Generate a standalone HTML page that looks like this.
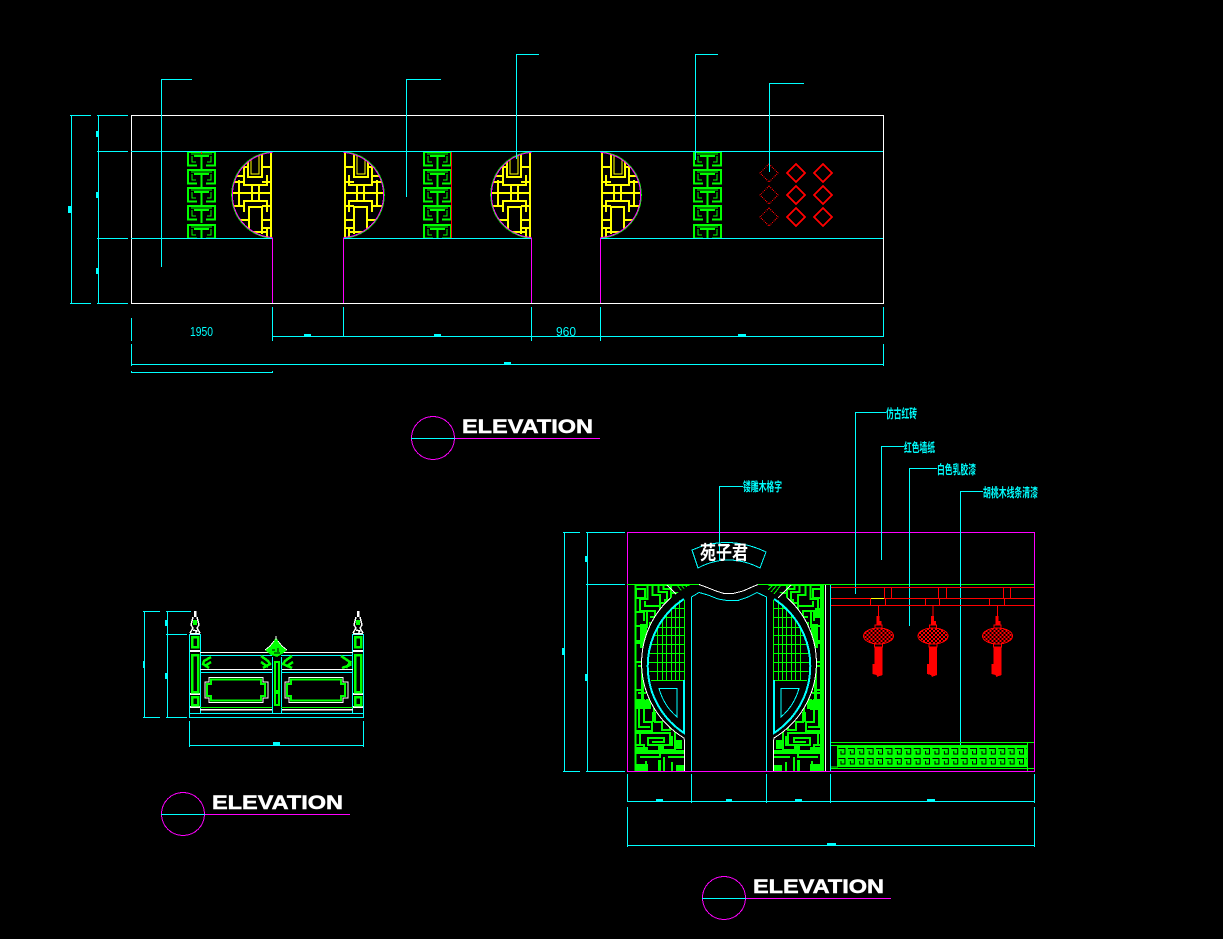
<!DOCTYPE html>
<html><head><meta charset="utf-8"><title>Elevation</title>
<style>
html,body{margin:0;padding:0;background:#000;width:1223px;height:939px;overflow:hidden}
svg{display:block}
text{font-family:"Liberation Sans","Noto Sans CJK SC",sans-serif}
.c{stroke:#0ff;fill:none}
.w{stroke:#fff;fill:none}
.m{stroke:#f0f;fill:none}
.g{stroke:#0f0;fill:none}
.r{stroke:#f00;fill:none}
.y{stroke:#ff0;fill:none;stroke-width:2}
.f{fill:#0ff;stroke:none}
.el{fill:#fff;font-weight:bold;font-size:19.5px;stroke:#fff;stroke-width:.5px}
.cn{fill:#0ff;font-size:12.5px;font-weight:bold}
.dim{fill:#0ff;font-size:12.5px}
</style></head><body>
<svg xmlns="http://www.w3.org/2000/svg" width="1223" height="939" viewBox="0 0 1223 939" shape-rendering="crispEdges">
<defs>
<clipPath id="cc"><circle cx="275" cy="195" r="43"/></clipPath>
<clipPath id="hc"><rect x="225" y="150" width="47.5" height="89"/></clipPath>
<clipPath id="kc"><rect x="0" y="152" width="1223" height="86"/></clipPath>
<g id="lat"><g clip-path="url(#hc)">
<g clip-path="url(#cc)" class="y">
<path d="M271 152V238M248 152V177H262V152M244 165V176M244 176V185H267V175M232 193H271M262 167H271M262 220H271M235 176H244M240 167H248M252 185V201M259 185V201M239 180V206M232 206H244M244 212V201H267V212M249 234V207H262V234M240 220H249M232 182H244M262 182H271M262 206H271M267 228V238M249 232H267M262 228H271"/>
<path d="M251 152V174H259V152" stroke-width="1"/>
</g>
<circle cx="275" cy="195" r="43.3" class="g"/>
<circle cx="275" cy="195" r="42.6" class="m"/>
</g></g>
<g id="ku" class="g">
<path d="M10 14.500H1V1H28V14.500H19" stroke-width="2"/>
<path d="M14.500 5V18" stroke-width="2"/>
<path d="M7 5H22" stroke-width="2"/>
<path d="M5 5V11H9M24 5V11H20M4 3H25" stroke-width="1"/>
</g>
<g id="col" clip-path="url(#kc)">
<use href="#ku" y="151"/><use href="#ku" y="169"/><use href="#ku" y="187"/><use href="#ku" y="205"/><use href="#ku" y="224"/>
</g>
<pattern id="chk" patternUnits="userSpaceOnUse" width="4" height="4"><rect width="4" height="4" fill="#f00"/><rect width="2" height="2" fill="#000"/><rect x="2" y="2" width="2" height="2" fill="#000"/></pattern>
<g id="lan">
<path class="r" d="M0 -31V-16"/>
<path d="M-2 -20H1V-15H3V-11H-2Z" fill="#f00"/>
<path class="r" d="M-3.500 -11H3.500V-7H-3.500Z"/>
<ellipse rx="15" ry="8" fill="url(#chk)" stroke="#f00"/>
<path class="r" d="M-4 8H4V11H-4Z"/>
<path d="M-4 11H4V39L1 40L-1 41L-2 39L-6 38V28H-4Z" fill="#f00"/>
</g>
<pattern id="key" patternUnits="userSpaceOnUse" x="838" y="746" width="9.400" height="10">
<path d="M0.500 2.500H7V8H3V5" fill="none" stroke="#000" stroke-width="1"/>
</pattern>
<g id="maze" class="g" stroke-width="1">
<path d="M635.500 585V771M635 585H692" stroke-width="2"/>
<path stroke-width="1.600" d="M636 589H645V598H636ZM647.500 585V599H640V611H655V619M652.500 585V595H660V606H645V601M658.500 585V592H667V603H660V617H650M663.500 585V589H671V600H665V612M671 585V593H680M636 612H644V621M636 626H641V647H648M644 650V662H636M638 666H642V690H636M638 693H646M647 612V628M650 622V636H644"/>
<path stroke-width="1.600" d="M636 700H644V722H652V731H636M639 706V727H650M642 690V700M646 700H654V716M654 722H662V730H670V725"/>
<path stroke-width="1.600" d="M636 733H670V745H648V738H664V742H652M636 745H644V750M675 732V750H664M636 753H685M646 761V771M640 757H660V752M668 757H684M664 757V771M672 762V771M640 733V745"/>
</g>
<g id="mazeb" fill="#0f0">
<rect x="640" y="624" width="7" height="22"/><rect x="636" y="640" width="5" height="4"/>
<rect x="641" y="676" width="3" height="24"/><rect x="636" y="700" width="15" height="9"/>
<rect x="652" y="712" width="4" height="10"/>
<rect x="670" y="736" width="3" height="10"/><rect x="674" y="740" width="8" height="9"/>
<rect x="636" y="747" width="12" height="6"/><rect x="636" y="750" width="49" height="3"/>
<rect x="658" y="745" width="6" height="8"/>
<rect x="636" y="764" width="12" height="7"/><rect x="658" y="760" width="3" height="11"/><rect x="676" y="765" width="8" height="6"/>
</g>
<clipPath id="gc"><circle cx="729" cy="663" r="80"/></clipPath>
<g id="back">
<use href="#maze"/><use href="#mazeb"/>
<rect x="688" y="590" width="10" height="182" fill="#000"/>
<circle cx="729" cy="663" r="87" fill="#000"/>
<rect x="685.500" y="600" width="60" height="172" fill="#000"/>
<path class="g" d="M677 585L684 594M681 585L687 592M685 585L690 590"/>
<path class="w" d="M667 585L680 598"/>
</g>
<g id="front">
<g clip-path="url(#gc)" class="g">
<path d="M657.500 605V680M662.500 605V680M666.500 600V680M671.500 600V680M675.500 600V680M679.500 600V680M684.500 600V680M645 608.500H685M645 617.500H685M645 627.500H685M645 635.500H685M645 644.500H685M645 653.500H685M645 662.500H685M645 671.500H685M645 680.500H685"/>
</g>
<path class="w" d="M670.500 598A87.500 87.500 0 0 0 684 738L684.500 741V771"/>
<path class="c" stroke-width="2" d="M684 599A80 80 0 0 0 684 733V680"/>
<path class="c" d="M659 688.500H677V717Q664 706 659 688.500Z"/>
</g>
</defs>
<rect width="1223" height="939" fill="#000"/>

<!-- top elevation -->
<use href="#col" x="187"/><use href="#col" x="423"/><use href="#col" x="693"/>
<use href="#lat"/>
<use href="#lat" transform="matrix(-1 0 0 1 616 0)"/>
<use href="#lat" transform="translate(259 0)"/>
<use href="#lat" transform="matrix(-1 0 0 1 873 0)"/>
<path class="r" d="M451.500 152V238M201.500 152V154"/>
<path fill="none" stroke="#f00" stroke-width="1.300" stroke-dasharray="1 1" d="M769 164l9 9l-9 9l-9 -9ZM769 186l9 9l-9 9l-9 -9ZM769 208l9 9l-9 9l-9 -9Z"/>
<path class="r" stroke-width="1.600" d="M796 164l9 9l-9 9l-9 -9ZM823 164l9 9l-9 9l-9 -9ZM796 186l9 9l-9 9l-9 -9ZM823 186l9 9l-9 9l-9 -9ZM796 208l9 9l-9 9l-9 -9ZM823 208l9 9l-9 9l-9 -9Z"/>
<path class="w" d="M131.500 115.500H883.500V303.500H131.500Z"/>
<path class="c" d="M97 151.500H128M131 151.500H883M97 238.500H128M131 238.500H272M344 238.500H531M600 238.500H883"/>
<path class="m" d="M272.500 238V303M343.500 238V303M531.500 238V303M600.500 238V303"/>
<path class="c" d="M161.500 267V79.500H192M406.500 197V79.500H441M516.500 159V54.500H539M695.500 160V54.500H718M769.500 172V83.500H804"/>
<path class="c" d="M71.500 115.500V303.500M70 115.500H91M70 303.500H91M98.500 115.500V303.500M97 115.500H128M97 303.500H128"/>
<path class="c" d="M131.500 318V341M272.500 307V341M343.500 307V337M531.500 307V341M600.500 307V341M883.500 307V337M272 336.500H883M131.500 344V366M883.500 344V366M131 364.500H883M131 372.500H273M131.500 371V373M272.500 371V373"/>
<g class="f"><rect x="304" y="334" width="7" height="2"/><rect x="434" y="334" width="7" height="2"/><rect x="738" y="334" width="8" height="2"/><rect x="504" y="362" width="7" height="2"/><rect x="96" y="131" width="3" height="6"/><rect x="96" y="192" width="3" height="6"/><rect x="96" y="268" width="3" height="6"/><rect x="68" y="206" width="3" height="7"/></g>
<text class="dim" x="190" y="336" textLength="23" lengthAdjust="spacingAndGlyphs">1950</text>
<text class="dim" x="556" y="336" textLength="20" lengthAdjust="spacingAndGlyphs">960</text>

<circle cx="433" cy="438" r="21.500" class="m"/><path class="c" d="M411 438.500H455"/><path class="m" d="M455 438.500H600"/>
<text class="el" x="462" y="433" textLength="131" lengthAdjust="spacingAndGlyphs">ELEVATION</text>
<circle cx="183" cy="814" r="21.500" class="m"/><path class="c" d="M161 814.500H205"/><path class="m" d="M205 814.500H350"/>
<text class="el" x="212" y="809" textLength="131" lengthAdjust="spacingAndGlyphs">ELEVATION</text>
<circle cx="724" cy="898" r="21.500" class="m"/><path class="c" d="M702 898.500H746"/><path class="m" d="M746 898.500H891"/>
<text class="el" x="753" y="893" textLength="131" lengthAdjust="spacingAndGlyphs">ELEVATION</text>

<!-- small elevation -->
<path class="c" d="M144.500 611.500V717.500M143 611.500H160M143 717.500H160M167.500 611.500V717.500M166 611.500H191M166 634.500H187M166 717.500H187"/>
<path class="c" d="M189.500 721V747M363.500 721V747M189 745.500H364M189 717.500H364M189.500 634V717M363.500 634V717M200.500 634V713M352.500 634V713M189 713.500H364"/>
<g class="f"><rect x="143" y="661" width="2" height="7"/><rect x="165" y="620" width="2" height="6"/><rect x="165" y="673" width="2" height="6"/><rect x="273" y="742" width="7" height="3"/></g>
<g id="post">
<path class="c" d="M189 634.500H200"/>
<path class="w" stroke-width="2" d="M190 651H200M190 694H200M190 707H200"/>
<path class="g" stroke-width="2.500" d="M192 637H198V647H192ZM192 655H198V692H192ZM192 697H198V705H192Z"/>
<path fill="#fff" d="M194 611H196.500V617H194Z"/>
<path class="w" stroke-width="1.500" d="M193 617L191 625M197 617L199 625M191 625L193 628L190 633M199 625L197 628L200 633M193 630L197 631L195 634M190 633.500H200"/>
<rect x="193" y="620" width="4" height="5" fill="#0f0"/>
</g>
<use href="#post" x="163"/>
<path class="w" d="M200 652.500H353M200 669.500H273M281 669.500H353"/>
<path class="w" stroke-width="1.500" d="M200 709.500H273M281 709.500H353"/>
<path class="c" d="M200 655.500H272M281 655.500H353M200 672.500H273M281 672.500H353M272.500 657V713M281.500 657V713"/>
<path class="g" d="M200 707.500H272M281 707.500H353"/>
<path class="g" stroke-width="2.200" d="M275 662H279V691H275ZM275 693H279V705H275Z"/>
<g id="pan"><path class="w" d="M209 677.500H263V682H268V698H263V702.500H209V698H205V682H209Z"/>
<path class="g" stroke-width="1.600" d="M211 679.500H261V684H265V696H261V700.500H211V696H207V684H211Z"/></g>
<use href="#pan" x="80"/>
<path fill="#0f0" d="M276 637L280 644L287 650L282 654L277 657L271 655L265 650L272 644Z"/>
<path class="w" d="M276 636V640M274 641L270 646L265 650M278 641L282 646L287 650"/>
<path fill="none" stroke="#000" d="M272 650H275M278 648V652M274 653H280"/>
<g fill="none" stroke="#0f0" stroke-width="2.500">
<path d="M211 657L204 661L203 664L209 668M205 666L211 662"/><path d="M261 656L268 661L270 664L263 668M261 662L268 667"/>
<path d="M292 656L285 661L283 664L292 668M287 666L293 662"/><path d="M341 656L350 662L350 665L342 668M351 661L346 668"/>
</g>

<!-- big elevation -->
<use href="#back"/>
<use href="#back" transform="matrix(-1 0 0 1 1458 0)"/>
<rect x="692" y="590" width="74" height="182" fill="#000"/>
<use href="#front"/>
<use href="#front" transform="matrix(-1 0 0 1 1458 0)"/>
<rect x="820" y="585" width="4" height="186" fill="#0f0"/>
<rect x="815" y="608" width="5" height="10" fill="#0f0"/><rect x="810" y="704" width="10" height="6" fill="#0f0"/>
<path class="m" d="M627.500 532.500H1034.500V771.500H627.500Z"/>
<path class="c" d="M564.500 532.500V771.500M563 532.500H580M563 771.500H580M587.500 532.500V771.500M586 532.500H625M586 584.500H625M586 771.500H625"/>
<path class="g" d="M627 584.500H699M758 584.500H1034"/>
<path class="w" d="M699 584.500L706 587L716 591L724 593.500H733L743 591L752 587L758 584.500M825.500 585V771"/>
<path class="c" d="M691.500 771V597L699 592.500L708 595L718 599L727 600.500H738L748 597L757 592.500L766.500 597V771M830.500 585V771"/>
<path class="c" d="M627.500 774V802M691.500 774V803M766.500 774V803M830.500 774V803M1034.500 774V803M627 801.500H1035M627.500 807V847M1034.500 807V847M627 845.500H1035"/>
<g class="f"><rect x="656" y="799" width="7" height="2"/><rect x="726" y="799" width="6" height="2"/><rect x="795" y="799" width="7" height="2"/><rect x="927" y="799" width="8" height="2"/><rect x="827" y="843" width="9" height="2"/><rect x="562" y="648" width="2" height="7"/><rect x="585" y="556" width="2" height="6"/><rect x="585" y="674" width="2" height="7"/></g>
<path class="c" d="M719.500 560V486.500H743M855.500 594V412.500H886M881.500 560V446.500H904M909.500 626V468.500H937M960.500 747V491.500H983"/>
<text class="cn" x="743" y="491" textLength="39" lengthAdjust="spacingAndGlyphs">镂雕木格字</text>
<text class="cn" x="886" y="418" textLength="31" lengthAdjust="spacingAndGlyphs">仿古红砖</text>
<text class="cn" x="904" y="452" textLength="31" lengthAdjust="spacingAndGlyphs">红色墙纸</text>
<text class="cn" x="937" y="474" textLength="39" lengthAdjust="spacingAndGlyphs">白色乳胶漆</text>
<text class="cn" x="983" y="497" textLength="55" lengthAdjust="spacingAndGlyphs">胡桃木线条清漆</text>
<path class="c" d="M692 550Q728 534 766 552L760 568Q728 552 698 568Z"/>
<text x="700" y="559" fill="#fff" font-size="19" font-weight="bold" textLength="48" lengthAdjust="spacingAndGlyphs">苑子君</text>
<path class="r" d="M831 587.500H1034M831 605.500H1034M884.500 588V598M891.500 588V598M938.500 588V598M946.500 588V598M1003.500 588V598M1010.500 588V598M870.500 599V605M885.500 599V605M925.500 599V605M939.500 599V605M989.500 599V605M1004.500 599V605"/>
<path class="r" stroke-width="1.300" d="M831 598.500H1034"/>
<path stroke="#ff0" d="M871 598.500H884"/>
<use href="#lan" x="878.500" y="636"/><use href="#lan" x="933" y="636"/><use href="#lan" x="997.500" y="636"/>
<path class="g" d="M831 742.500H1034M831 768.500H1034M831 745.500H837.500V767H831M1027.500 743V771"/>
<rect x="838" y="745" width="189" height="22" fill="#0f0"/>
<rect x="838" y="745" width="189" height="22" fill="url(#key)"/>
</svg>
</body></html>
